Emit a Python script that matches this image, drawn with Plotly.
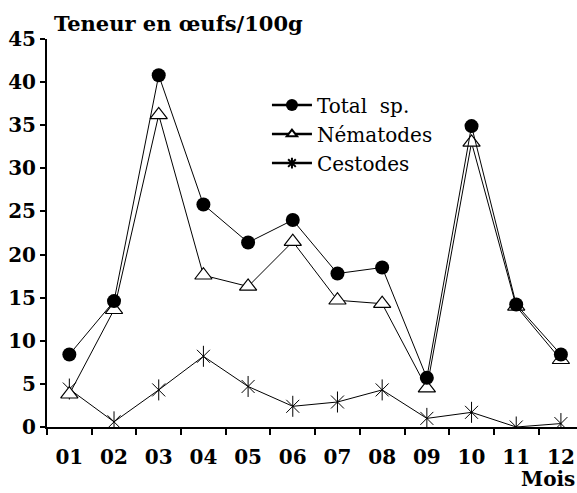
import plotly.graph_objects as go

months = ["01", "02", "03", "04", "05", "06", "07", "08", "09", "10", "11", "12"]
total_sp = [8.4, 14.6, 40.8, 25.8, 21.4, 24.0, 17.8, 18.5, 5.7, 34.9, 14.2, 8.4]
nematodes = [3.8, 13.6, 36.2, 17.6, 16.3, 21.5, 14.7, 14.3, 4.5, 33.0, 14.0, 7.8]
cestodes = [4.4, 0.6, 4.3, 8.2, 4.7, 2.4, 2.9, 4.3, 1.0, 1.7, 0.0, 0.4]
y_ticks = [0, 5, 10, 15, 20, 25, 30, 35, 40, 45]

SERIF = "DejaVu Serif"
fig = go.Figure()

# data traces
fig.add_trace(go.Scatter(x=months, y=cestodes, mode="lines+markers", showlegend=False,
                         line=dict(color="black", width=1),
                         marker=dict(symbol="x-thin-open", size=13, color="black",
                                     line=dict(color="black", width=1))))
fig.add_trace(go.Scatter(x=months, y=cestodes, mode="markers", showlegend=False,
                         marker=dict(symbol="line-ns-open", size=15, color="black",
                                     line=dict(color="black", width=1))))
fig.add_trace(go.Scatter(x=months, y=nematodes, mode="lines+markers", showlegend=False,
                         line=dict(color="black", width=1),
                         marker=dict(symbol="triangle-up", size=15, color="white",
                                     line=dict(color="black", width=1.2))))
fig.add_trace(go.Scatter(x=months, y=total_sp, mode="lines+markers", showlegend=False,
                         line=dict(color="black", width=1),
                         marker=dict(symbol="circle", size=14, color="black")))

# legend-only traces
fig.add_trace(go.Scatter(x=[None], y=[None], mode="lines+markers", name="Total  sp.",
                         line=dict(color="black", width=2.5),
                         marker=dict(symbol="circle", size=12, color="black")))
fig.add_trace(go.Scatter(x=[None], y=[None], mode="lines+markers", name="Nématodes",
                         line=dict(color="black", width=2.5),
                         marker=dict(symbol="triangle-up", size=9, color="white",
                                     line=dict(color="black", width=2))))
fig.add_trace(go.Scatter(x=[None], y=[None], mode="lines+markers", name="Cestodes",
                         line=dict(color="black", width=2.5),
                         marker=dict(symbol="asterisk-open", size=9, color="black",
                                     line=dict(color="black", width=2))))

fig.update_layout(
    width=577, height=493,
    margin=dict(l=47, r=0, t=39, b=66),
    paper_bgcolor="white", plot_bgcolor="white",
    font=dict(family=SERIF, color="black"),
    xaxis=dict(type="category", categoryorder="array", categoryarray=months,
               range=[-0.5, 11.36], tickson="boundaries", ticks="outside", ticklen=6,
               tickwidth=1.5, tickcolor="black", showline=True, linecolor="black",
               linewidth=2, showgrid=False, zeroline=False,
               tickfont=dict(family=SERIF, size=20, color="black", weight="bold"),
               ticklabelstandoff=11),
    yaxis=dict(range=[0, 45], tickvals=y_ticks, ticks="outside", ticklen=5,
               tickwidth=1.5, tickcolor="black", showline=True, linecolor="black",
               linewidth=2, showgrid=False, zeroline=False, automargin=False,
               tickfont=dict(family=SERIF, size=20, color="black", weight="bold")),
    legend=dict(x=0.415, y=0.88, xanchor="left", yanchor="top",
                bgcolor="rgba(0,0,0,0)", font=dict(family=SERIF, size=20, color="black"),
                itemwidth=40, tracegroupgap=0),
    annotations=[
        dict(text="Teneur en œufs/100g", xref="paper", yref="paper", x=0.01, y=1.0,
             yshift=1, xanchor="left", yanchor="bottom", showarrow=False,
             font=dict(family=SERIF, size=21, color="black", weight="bold")),
        dict(text="Mois", xref="paper", yref="paper", x=1.0, y=0, yshift=-38,
             xanchor="right", yanchor="top", showarrow=False,
             font=dict(family=SERIF, size=20, color="black", weight="bold")),
    ],
)

fig.write_html(
    "out.html",
    config={"displayModeBar": False},
    post_script="document.body.style.margin='0';document.body.style.overflow='hidden';",
)
